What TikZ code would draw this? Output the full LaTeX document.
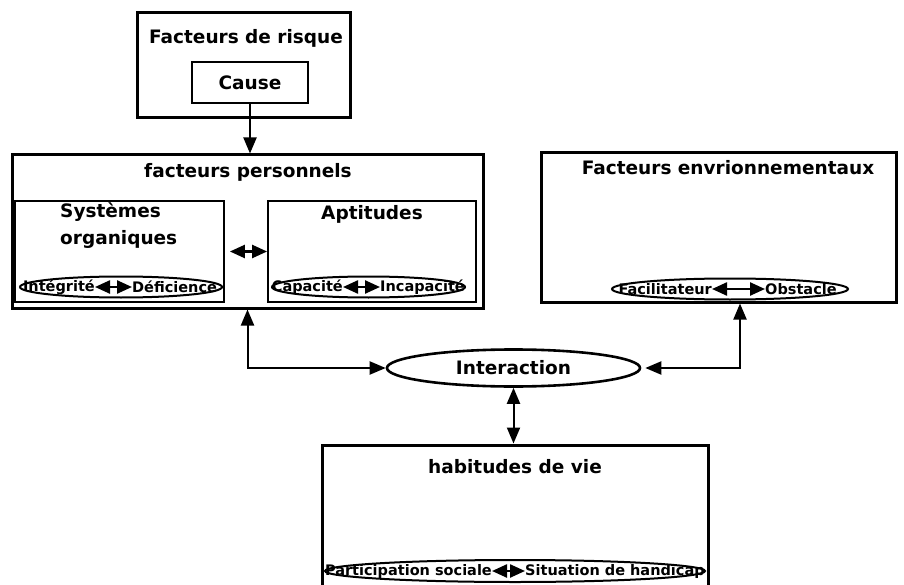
\documentclass[tikz,border=0pt]{standalone}
\usepackage{fontspec}
\setmainfont{DejaVu Sans}
\usetikzlibrary{arrows.meta,shapes.geometric}
\begin{document}
\begin{tikzpicture}[x=1pt,y=-1pt,
  big/.style={font=\fontsize{18.5}{27}\selectfont\bfseries, inner sep=0pt},
  small/.style={font=\fontsize{14.5}{16}\selectfont\bfseries, inner sep=0pt},
  outerbox/.style={draw, line width=3pt, inner sep=0pt},
  innerbox/.style={draw, line width=1.8pt, inner sep=0pt},
  pill/.style={draw, ellipse, line width=2pt, inner sep=0pt, minimum height=21pt},
  conn/.style={line width=2pt, {Triangle[length=16pt,width=13pt]}-{Triangle[length=16pt,width=13pt]}},
  onearr/.style={line width=2pt, -{Triangle[length=16pt,width=13pt]}},
  minarr/.style={line width=2.4pt, {Triangle[length=15pt,width=13pt]}-{Triangle[length=15pt,width=13pt]}},
]
\useasboundingbox (0,0) rectangle (904,585);

% risk factors
\node[outerbox, minimum width=213pt, minimum height=105pt] (risk) at (243.5,65) {};
\node[big] (risktitle) at (246,38) {Facteurs de risque};
\node[innerbox, big, minimum width=116pt, minimum height=41pt] (cause) at (250,82.5) {Cause};

% personal factors
\node[outerbox, minimum width=471pt, minimum height=153pt] (pers) at (247.5,231.5) {};
\node[big] (perstitle) at (248,172) {facteurs personnels};
\node[innerbox, minimum width=209pt, minimum height=101pt] (sys) at (119.5,251.5) {};
\node[big, anchor=north west, align=left] (systxt) at (60,203) {Systèmes\\organiques};
\node[innerbox, minimum width=208pt, minimum height=101pt] (apt) at (372,251.5) {};
\node[big] (apttxt) at (372,214) {Aptitudes};
\draw[minarr, shorten <=5pt] (sys.east) -- (apt.west);

\node[pill, minimum width=202pt] (e1) at (121,287) {};
\node[small, anchor=east] (e1l) at (95,287) {Intégrité};
\node[small, anchor=west] (e1r) at (132,287) {Déficience};
\draw[minarr] (e1l.east) -- (e1r.west);

\node[pill, minimum width=193pt] (e2) at (368.5,287) {};
\node[small, anchor=east] (e2l) at (343,287) {Capacité};
\node[small, anchor=west] (e2r) at (380,287) {Incapacité};
\draw[minarr] (e2l.east) -- (e2r.west);

% environmental factors
\node[outerbox, minimum width=355pt, minimum height=149pt] (env) at (718.5,227.5) {};
\node[big] (envtitle) at (728,168) {Facteurs envrionnementaux};
\node[pill, minimum width=236pt] (e3) at (730,289) {};
\node[small, anchor=east] (e3l) at (712,289) {Facilitateur};
\node[small, anchor=west] (e3r) at (765,289) {Obstacle};
\draw[minarr] (e3l.east) -- (e3r.west);

% interaction
\node[draw, ellipse, line width=2.6pt, minimum width=253pt, minimum height=37pt, big] (inter) at (513.5,368) {Interaction};

% life habits
\node[outerbox, minimum width=386pt, minimum height=147pt] (habit) at (515,518.5) {};
\node[big] (habittitle) at (515,467) {habitudes de vie};
\node[pill, minimum width=380pt, minimum height=22pt] (e4) at (515,571) {};
\node[small, anchor=east] (e4l) at (492,571) {Participation sociale};
\node[small, anchor=west] (e4r) at (525,571) {Situation de handicap};
\draw[minarr] (e4l.east) -- (e4r.west);

% connectors
\draw[onearr] (cause.south) -- (cause.south |- pers.north);
\draw[conn] (pers.south) |- (inter.west);
\draw[conn, shorten >=4pt] ([xshift=21.5pt]env.south) |- (inter.east);
\draw[conn] (inter.south) -- (inter.south |- habit.north);
\end{tikzpicture}
\end{document}
